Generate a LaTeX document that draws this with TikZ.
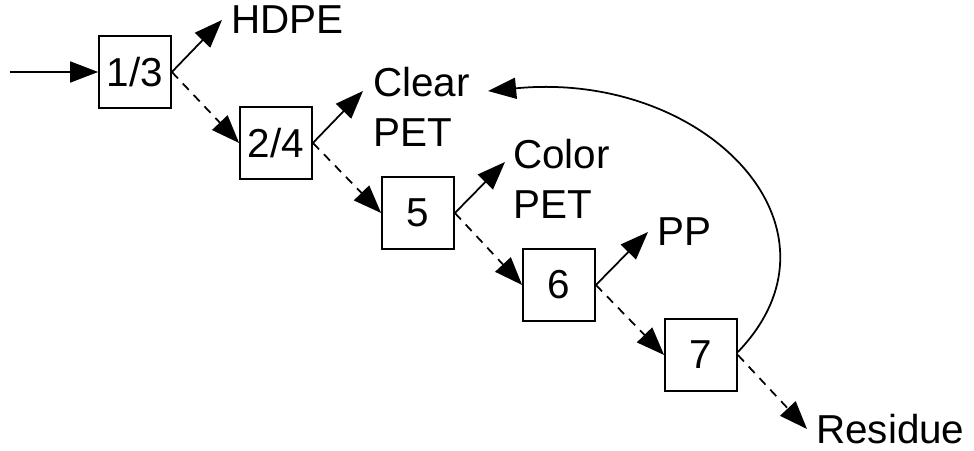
\documentclass[tikz,border=0pt]{standalone}
\usepackage{fontspec}
\setmainfont{Liberation Sans}
\usetikzlibrary{arrows.meta}

\begin{document}
\begin{tikzpicture}[
    font=\fontsize{23}{28.5}\selectfont,
    >={Triangle[length=16pt, width=12pt]},
    procbox/.style={draw, line width=1pt, minimum size=1.44cm, inner sep=0pt},
    lbl/.style={align=left},
    outarr/.style={->, line width=1pt},
    passarr/.style={->, line width=1pt, dash pattern=on 5pt off 4pt},
]
\useasboundingbox (0,0) rectangle (19.48,9.0);

% ── sorting stages ──
\node[procbox] (b13) at (2.70, 7.56) {1/3};
\node[procbox] (b24) at (5.52, 6.14) {2/4};
\node[procbox] (b5)  at (8.36, 4.74) {5};
\node[procbox] (b6)  at (11.18, 3.30) {6};
\node[procbox] (b7)  at (14.02, 1.90) {7};

% ── products ──
\node[lbl, anchor=west] (hdpe) at (4.50, 8.60) {HDPE};
\node[lbl, anchor=north west] (clear) at (7.34, 7.78) {Clear\\PET};
\node[lbl, anchor=north west] (color) at (10.14, 6.34) {Color\\PET};
\node[lbl, anchor=west] (pp) at (13.02, 4.36) {PP};
\node[lbl, anchor=west] (res) at (16.20, 0.42) {Residue};

\coordinate (feed) at (0.20, 7.56);
\coordinate (cleartip) at (7.26, 7.18);
\coordinate (colortip) at (10.10, 5.76);
\coordinate (recycle) at (9.76, 7.18);

% ── flows ──
\draw[outarr] (feed) -- (b13.west);
\draw[outarr] (b13.east) -- ([xshift=-0.06cm]hdpe.west);
\draw[outarr] (b24.east) -- (cleartip);
\draw[outarr] (b5.east) -- (colortip);
\draw[outarr] (b6.east) -- ([xshift=-0.06cm]pp.west);

\draw[passarr] (b13.east) -- (b24.west);
\draw[passarr] (b24.east) -- (b5.west);
\draw[passarr] (b5.east) -- (b6.west);
\draw[passarr] (b6.east) -- (b7.west);
\draw[passarr] (b7.east) -- ([xshift=-0.06cm]res.west);

% ── return loop ──
\draw[outarr] ([yshift=0.06cm]b7.east) .. controls (17.15, 4.45) and (14.1, 7.6) .. (recycle);

\end{tikzpicture}
\end{document}
